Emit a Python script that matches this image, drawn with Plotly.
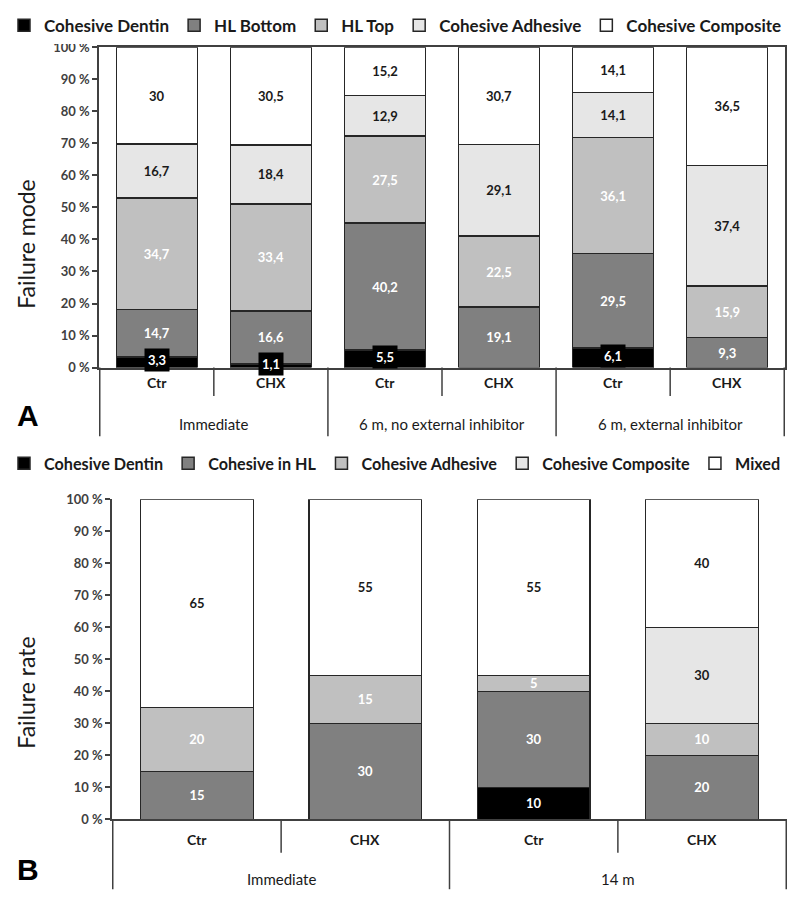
import plotly.graph_objects as go

# ---------------- Data: panel A ----------------
groups_a = ["Immediate", "Immediate",
            "6 m, no external inhibitor", "6 m, no external inhibitor",
            "6 m, external inhibitor", "6 m, external inhibitor"]
subs_a = ["Ctr", "CHX", "Ctr", "CHX", "Ctr", "CHX"]
series_a = ["Cohesive Dentin", "HL Bottom", "HL Top", "Cohesive Adhesive", "Cohesive Composite"]
dentin_a = [3.3, 1.1, 5.5, None, 6.1, None]
hl_bottom_a = [14.7, 16.6, 40.2, 19.1, 29.5, 9.3]
hl_top_a = [34.7, 33.4, 27.5, 22.5, 36.1, 15.9]
adhesive_a = [16.7, 18.4, 12.9, 29.1, 14.1, 37.4]
composite_a = [30, 30.5, 15.2, 30.7, 14.1, 36.5]

# ---------------- Data: panel B ----------------
groups_b = ["Immediate", "Immediate", "14 m", "14 m"]
subs_b = ["Ctr", "CHX", "Ctr", "CHX"]
series_b = ["Cohesive Dentin", "Cohesive in HL", "Cohesive Adhesive", "Cohesive Composite", "Mixed"]
dentin_b = [None, None, 10, None]
hl_b = [15, 30, 30, 20]
adhesive_b = [20, 15, 5, 10]
composite_b = [None, None, None, 30]
mixed_b = [65, 55, 55, 40]

ticks_y = list(range(0, 101, 10))
tick_text = [f"{v} %" for v in ticks_y]

# ---------------- Styling ----------------
FONT = "Lato"
W, H = 800, 909
fills = ["#000000", "#808080", "#c0c0c0", "#e6e6e6", "#ffffff"]
txtcol = ["#ffffff", "#ffffff", "#ffffff", "#1a1a1a", "#1a1a1a"]
EDGE = "#262626"
AXC = "#404040"


def py(px):
    return 1 - px / H


def fmt(v):
    return "" if v is None else f"{v:g}".replace(".", ",")


fig = go.Figure()

cats_a = [f"{g}|{s}" for g, s in zip(groups_a, subs_a)]
cats_b = [f"{g}|{s}" for g, s in zip(groups_b, subs_b)]

vals_a = [dentin_a, hl_bottom_a, hl_top_a, adhesive_a, composite_a]
for i, (name, vals) in enumerate(zip(series_a, vals_a)):
    texts = ["" if i == 0 else fmt(v) for v in vals]
    fig.add_trace(go.Bar(
        x=cats_a, y=vals, name=name, xaxis="x", yaxis="y", legend="legend",
        marker=dict(color=fills[i], line=dict(color=EDGE, width=1.5)),
        text=texts, textposition="inside", insidetextanchor="middle",
        textangle=0, constraintext="none", width=0.71,
        textfont=dict(family=FONT, size=13, color=txtcol[i], weight="bold"),
    ))

vals_b = [dentin_b, hl_b, adhesive_b, composite_b, mixed_b]
for i, (name, vals) in enumerate(zip(series_b, vals_b)):
    texts = [fmt(v) for v in vals]
    fig.add_trace(go.Bar(
        x=cats_b, y=vals, name=name, xaxis="x2", yaxis="y2", legend="legend2",
        marker=dict(color=fills[i], line=dict(color=EDGE, width=1.5)),
        text=texts, textposition="inside", insidetextanchor="middle",
        textangle=0, constraintext="none", width=0.67,
        textfont=dict(family=FONT, size=13, color=txtcol[i], weight="bold"),
    ))

# panel geometry (pixels)
A_left, A_right, A_top, A_bot = 99, 785, 40, 366
B_left, B_right, B_top, B_bot = 112, 787, 500, 826

axis_common = dict(showgrid=False, zeroline=False, fixedrange=True)
yaxis_common = dict(range=[0, 100], tickvals=ticks_y, ticktext=tick_text,
                    ticks="outside", ticklen=5, tickwidth=1.5, tickcolor=AXC,
                    showline=True, linecolor=AXC, linewidth=1.5,
                    tickfont=dict(family=FONT, size=13, color=AXC, weight="bold"),
                    **axis_common)

fig.update_layout(
    width=W, height=H, margin=dict(l=0, r=0, t=0, b=0),
    paper_bgcolor="white", plot_bgcolor="white",
    barmode="stack", barnorm="percent",
    showlegend=True,
    xaxis=dict(domain=[A_left / W, A_right / W], anchor="y", type="category",
               showticklabels=False, ticks="", showline=True, linecolor=AXC,
               linewidth=1.5, mirror=True, **axis_common),
    yaxis=dict(domain=[py(A_bot), py(A_top)], anchor="x", mirror=True, **yaxis_common),
    xaxis2=dict(domain=[B_left / W, B_right / W], anchor="y2", type="category",
                showticklabels=False, ticks="", showline=True, linecolor=AXC,
                linewidth=1.5, **axis_common),
    yaxis2=dict(domain=[py(B_bot), py(B_top)], anchor="x2", **yaxis_common),
    legend=dict(orientation="h", x=0.005, y=py(18), xanchor="left", yanchor="middle",
                font=dict(family=FONT, size=17, color="#1a1a1a", weight="bold"),
                traceorder="normal", itemwidth=30, tracegroupgap=0),
    legend2=dict(orientation="h", x=0.005, y=py(464), xanchor="left", yanchor="middle",
                 font=dict(family=FONT, size=16.2, color="#1a1a1a", weight="bold"),
                 traceorder="normal", itemwidth=30, tracegroupgap=0),
)

annotations = []
shapes = []


def category_axis(groups, subs, xref, ybot_px, sub_y, grp_y, short_end, long_end):
    n = len(subs)
    for i, s in enumerate(subs):
        annotations.append(dict(x=i, xref=xref, y=py(sub_y), yref="paper", text=s,
                                xanchor="center", yanchor="middle", showarrow=False,
                                font=dict(family=FONT, size=14, color="#1a1a1a", weight="bold")))
    uniq = []
    for i, g in enumerate(groups):
        if not uniq or uniq[-1][0] != g:
            uniq.append([g, i, i])
        else:
            uniq[-1][2] = i
    for g, a, b in uniq:
        annotations.append(dict(x=(a + b) / 2, xref=xref, y=py(grp_y), yref="paper", text=g,
                                xanchor="center", yanchor="middle", showarrow=False,
                                font=dict(family=FONT, size=15, color="#1a1a1a")))
    group_bounds = set([u[1] - 0.5 for u in uniq] + [uniq[-1][2] + 0.5])
    for k in range(n + 1):
        xb = k - 0.5
        end = long_end if xb in group_bounds else short_end
        shapes.append(dict(type="line", xref=xref, yref="paper", x0=xb, x1=xb,
                           y0=py(ybot_px), y1=py(end), line=dict(color=AXC, width=1.5)))


category_axis(groups_a, subs_a, "x", A_bot, 381, 423, 395, 436)
category_axis(groups_b, subs_b, "x2", B_bot, 846, 887, 860, 897)

# Cohesive Dentin labels in panel A (black boxed labels)
for i, c in enumerate(cats_a):
    v = dentin_a[i]
    if v:
        total = sum(s[i] or 0 for s in vals_a)
        annotations.append(dict(x=c, xref="x", y=v / total * 100 / 2, yref="y", text=fmt(v),
                                xanchor="center", yanchor="middle",
                                showarrow=False, bgcolor="#000000", borderpad=3, yshift=2,
                                font=dict(family=FONT, size=13, color="white", weight="bold")))

# Y titles and panel letters
common_paper = dict(xref="paper", yref="paper", xanchor="center", yanchor="middle", showarrow=False)
annotations.append(dict(x=26 / W, y=py(240), text="Failure mode", textangle=-90,
                        font=dict(family=FONT, size=23, color="#1a1a1a"), **common_paper))
annotations.append(dict(x=26 / W, y=py(697), text="Failure rate", textangle=-90,
                        font=dict(family=FONT, size=23, color="#1a1a1a"), **common_paper))
annotations.append(dict(x=28 / W, y=py(415), text="A",
                        font=dict(family="Liberation Sans", size=30, color="#000000", weight="bold"),
                        **common_paper))
annotations.append(dict(x=28 / W, y=py(877), text="B",
                        font=dict(family="Liberation Sans", size=30, color="#000000", weight="bold"),
                        **common_paper))

fig.update_layout(annotations=annotations, shapes=shapes)
fig.write_html("out.html", config={"displayModeBar": False},
               post_script="document.body.style.margin='0px';")
